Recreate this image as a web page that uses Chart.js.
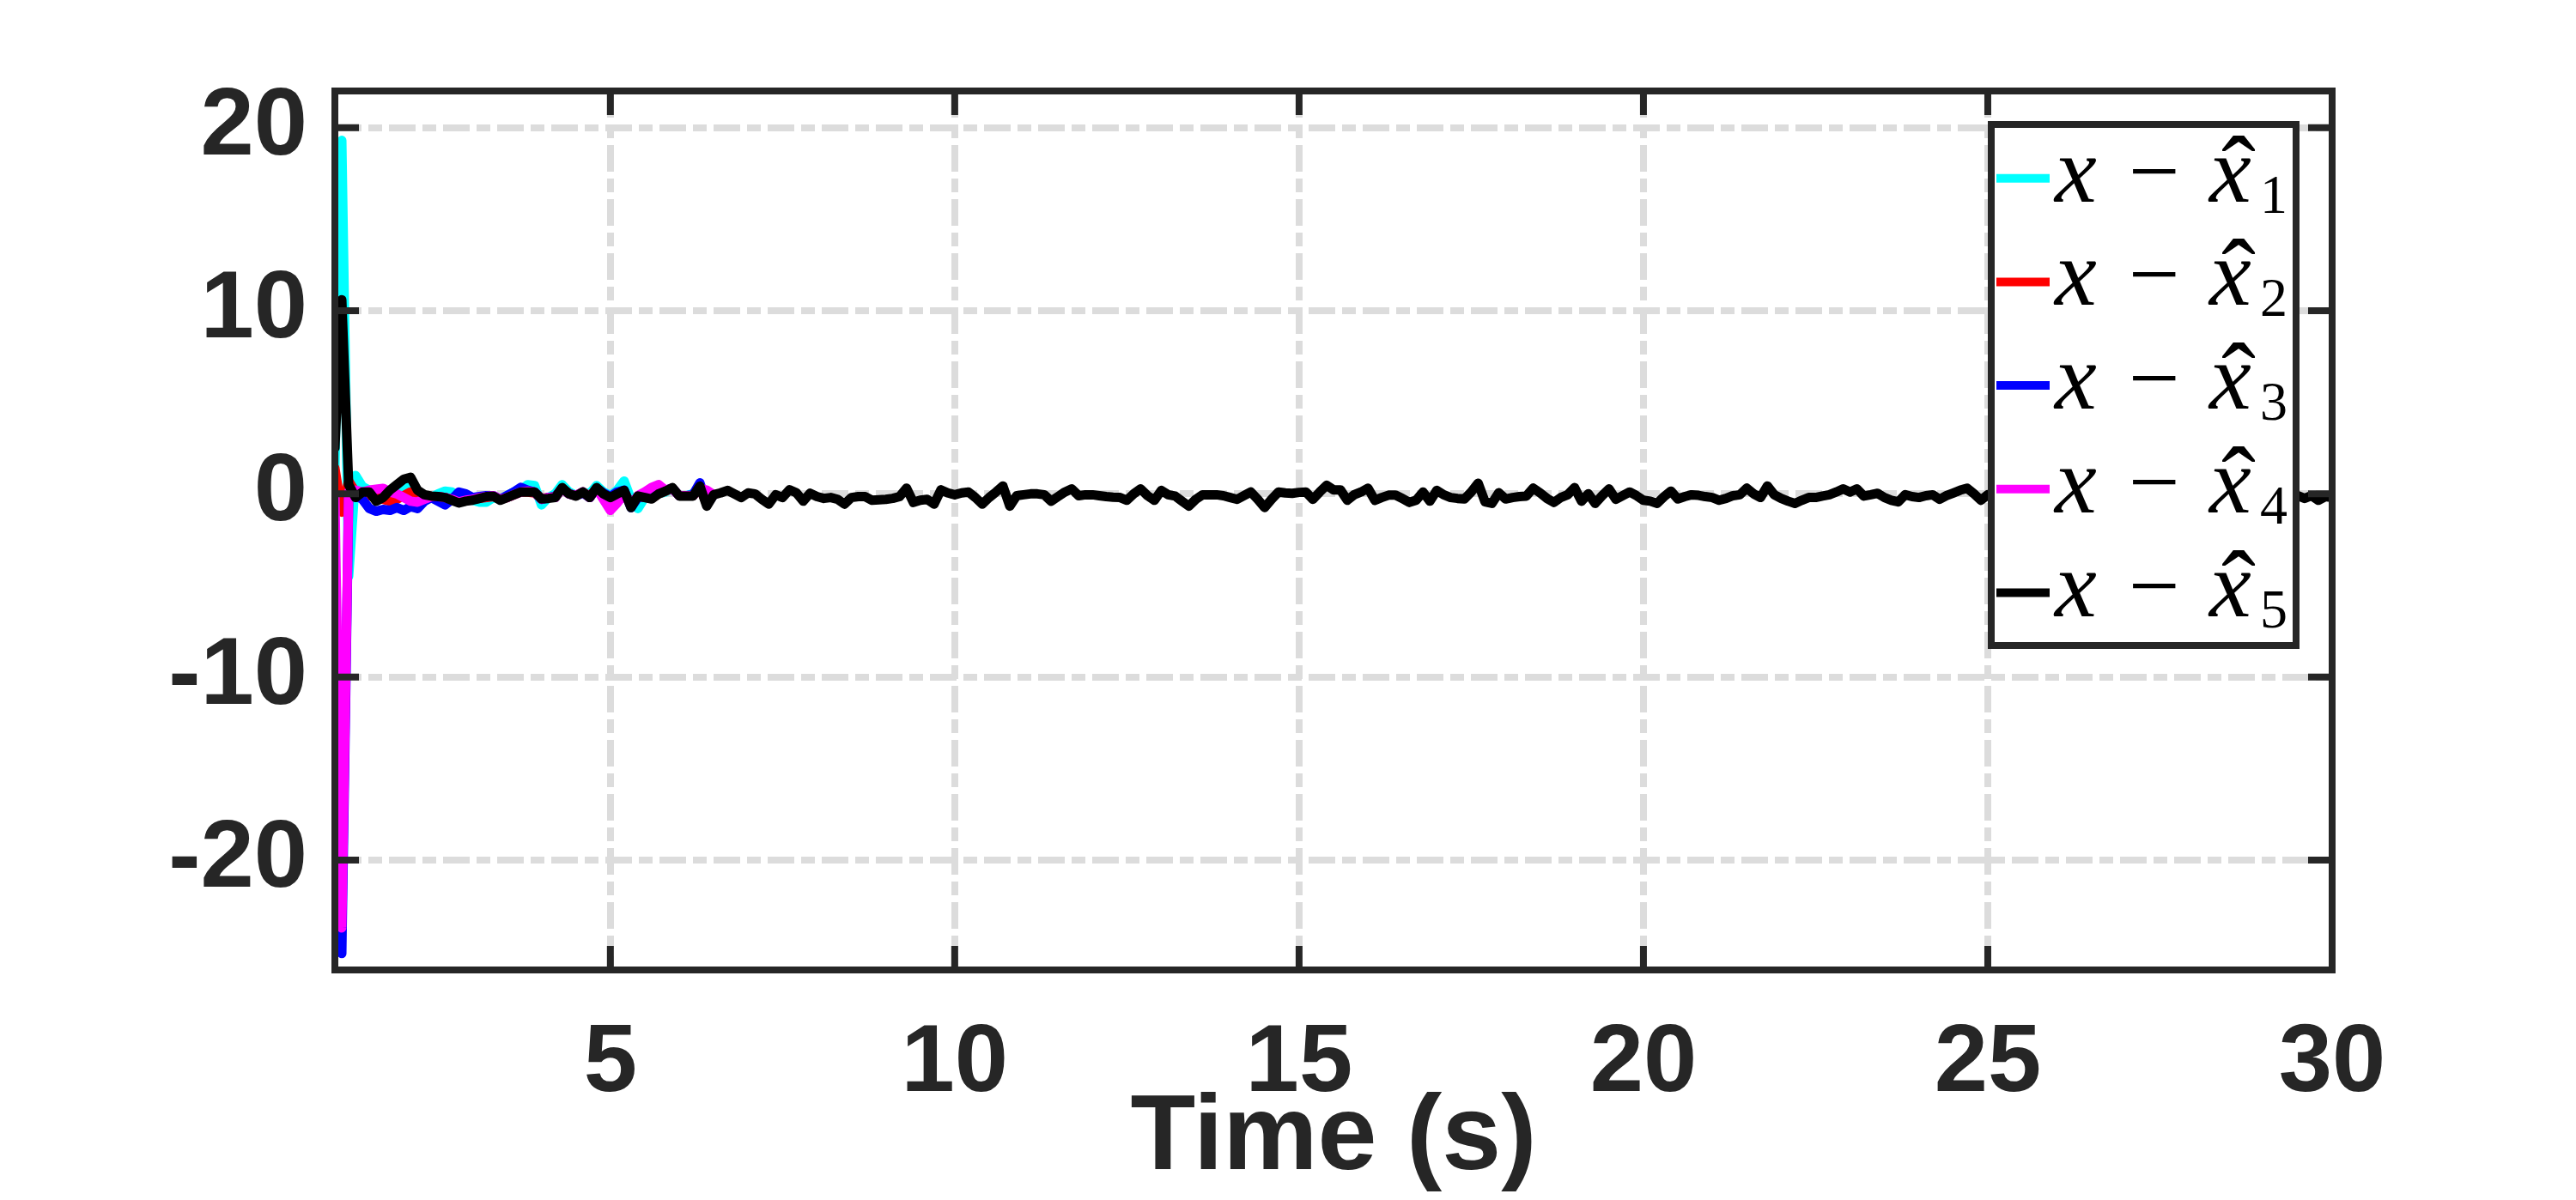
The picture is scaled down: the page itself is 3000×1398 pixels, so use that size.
<!DOCTYPE html>
<html>
<head>
<meta charset="utf-8">
<script src="https://cdn.jsdelivr.net/npm/chart.js@4.4.0/dist/chart.umd.min.js"></script>
<style>
  html, body { margin: 0; padding: 0; background: #fff; }
  #wrap { width: 3000px; height: 1398px; }
</style>
</head>
<body>
<div id="wrap"><canvas id="errChart" width="3000" height="1398"></canvas></div>
<script>
// sampling of the error signals (s)
var tStart = 1.0;
var dt = 0.1;

var xTicks = [5, 10, 15, 20, 25, 30];
var yTicks = [-20, -10, 0, 10, 20];

var seriesSubs = ['1', '2', '3', '4', '5'];
var seriesColors = ['#00ffff', '#ff0000', '#0000ff', '#ff00ff', '#000000'];

// x - xhat_1 .. x - xhat_4, from t = 1.0 s to 6.5 s
var err1 = [
  1.5, 19.3, -4.5, 1.0, 0.4, 0.2, -0.3, -0.1, 0.1, 0.2,
  0.3, 0.4, 0.1, -0.1, -0.2, 0.0, 0.15, 0.1, -0.3, -0.3,
  -0.35, -0.45, -0.45, -0.2, -0.3, -0.1, 0.1, 0.2, 0.5, 0.45,
  -0.6, -0.2, 0.0, 0.5, 0.1, -0.1, 0.1, 0.0, 0.45, 0.1,
  -0.1, 0.2, 0.7, -0.3, -0.8, -0.2, -0.2, 0.0, 0.1, 0.3,
  -0.1, -0.1, 0.0, 0.3, -0.4, -0.05
];
var err2 = [
  1.4, -1.0, 0.7, 0.1, 0.0, -0.1, -0.2, -0.3, -0.4, -0.3,
  -0.1, 0.1, 0.0, -0.1, -0.15, -0.15, -0.2, -0.3, -0.4, -0.35,
  -0.3, -0.25, -0.2, -0.15, -0.3, -0.2, -0.05, 0.1, 0.1, 0.05,
  -0.25, -0.2, -0.15, 0.3, 0.0, -0.1, 0.1, -0.15, 0.3, 0.0,
  -0.2, 0.0, 0.15, -0.6, -0.15, -0.2, -0.25, 0.0, 0.15, 0.3,
  -0.1, -0.1, -0.1, 0.35, -0.55, -0.05
];
var err3 = [
  -2.7, -25.1, -0.2, -0.1, -0.3, -0.8, -0.95, -0.85, -0.9, -0.75,
  -0.9, -0.7, -0.8, -0.4, -0.2, -0.4, -0.6, -0.3, 0.1, 0.0,
  -0.2, -0.15, -0.1, -0.1, -0.3, -0.1, 0.1, 0.35, 0.2, 0.1,
  -0.3, -0.2, -0.15, 0.3, 0.0, -0.1, 0.05, -0.2, 0.3, 0.05,
  -0.15, 0.1, 0.2, -0.75, -0.2, -0.15, -0.2, 0.05, 0.2, 0.3,
  -0.1, -0.1, -0.05, 0.6, -0.6, -0.05
];
var err4 = [
  -0.2, -23.7, 0.1, 0.2, 0.1, 0.2, 0.25, 0.3, 0.1, 0.0,
  -0.2, -0.4, -0.45, -0.3, -0.15, -0.15, -0.2, -0.3, -0.45, -0.35,
  -0.3, -0.2, -0.15, -0.1, -0.3, -0.2, -0.05, 0.1, 0.15, 0.1,
  -0.3, -0.2, -0.2, 0.3, 0.0, -0.1, 0.1, -0.2, 0.3, -0.3,
  -0.9, -0.5, 0.0, -0.6, -0.1, 0.1, 0.35, 0.5, 0.2, 0.3,
  -0.1, -0.1, -0.1, 0.3, 0.2, -0.05
];
// x - xhat_5, from t = 1.0 s to 30.0 s
var err5 = [
  2.5, 10.6, 0.5, -0.2, 0.1, 0.1, -0.4, -0.2, 0.2, 0.5,
  0.8, 0.9, 0.2, -0.05, -0.12, -0.15, -0.2, -0.35, -0.5, -0.4,
  -0.35, -0.25, -0.15, -0.12, -0.35, -0.2, -0.05, 0.1, 0.1, 0.1,
  -0.28, -0.25, -0.2, 0.34, 0.0, -0.12, 0.1, -0.2, 0.34, 0.0,
  -0.2, 0.0, 0.19, -0.75, -0.12, -0.2, -0.28, 0.0, 0.15, 0.34,
  -0.12, -0.12, -0.12, 0.42, -0.67, -0.05, 0.05, 0.19, 0.0, -0.2,
  0.05, 0.0, -0.3, -0.56, -0.05, -0.2, 0.22, 0.06, -0.4, 0.03,
  -0.15, -0.25, -0.2, -0.3, -0.56, -0.2, -0.15, -0.15, -0.35, -0.32,
  -0.3, -0.25, -0.15, 0.31, -0.47, -0.35, -0.3, -0.56, 0.22, 0.05,
  -0.05, 0.05, 0.1, -0.2, -0.56, -0.2, 0.1, 0.43, -0.67, -0.1,
  -0.05, 0.0, 0.0, -0.05, -0.4, -0.15, 0.1, 0.27, -0.1, -0.05,
  -0.05, -0.1, -0.15, -0.18, -0.2, -0.35, 0.0, 0.27, -0.1, -0.35,
  0.19, -0.05, -0.12, -0.4, -0.67, -0.3, -0.05, -0.05, -0.05, -0.1,
  -0.2, -0.3, -0.1, 0.1, -0.3, -0.75, -0.3, 0.1, 0.05, 0.03,
  0.08, 0.1, -0.3, 0.1, 0.47, 0.22, 0.22, -0.35, -0.05, 0.1,
  0.31, -0.35, -0.2, -0.07, -0.07, -0.25, -0.47, -0.35, 0.1, -0.4,
  0.19, -0.05, -0.2, -0.25, -0.28, 0.1, 0.58, -0.44, -0.52, 0.06,
  -0.28, -0.2, -0.15, -0.12, 0.31, 0.05, -0.25, -0.47, -0.2, -0.05,
  0.34, -0.4, 0.0, -0.52, -0.1, 0.27, -0.3, -0.1, 0.1, -0.1,
  -0.35, -0.4, -0.52, -0.15, 0.15, -0.28, -0.15, -0.05, -0.08, -0.15,
  -0.2, -0.35, -0.25, -0.1, -0.05, 0.31, 0.0, -0.2, 0.43, -0.05,
  -0.25, -0.4, -0.52, -0.35, -0.2, -0.2, -0.12, -0.05, 0.1, 0.27,
  0.1, 0.27, -0.12, -0.05, 0.03, -0.2, -0.35, -0.44, -0.05, -0.15,
  -0.2, -0.1, -0.05, -0.3, -0.1, 0.05, 0.2, 0.31, 0.0, -0.35,
  -0.05, -0.2, 0.15, -0.3, -0.1, 0.2, -0.25, -0.4, 0.05, -0.15,
  0.1, -0.3, -0.2, 0.25, -0.1, -0.45, 0.0, -0.15, 0.3, -0.2,
  -0.35, 0.05, -0.1, -0.25, 0.2, -0.2, -0.5, -0.1, 0.15, -0.05,
  -0.3, 0.1, -0.2, -0.15, 0.3, -0.35, -0.1, 0.05, -0.25, 0.2,
  -0.1, -0.4, -0.05, 0.1, -0.2, -0.1, -0.25, -0.1, -0.35, -0.15,
  -0.2
];

var allErrors = [err1, err2, err3, err4, err5];

function toPoints(values) {
  return values.map(function (v, i) {
    return { x: +(tStart + i * dt).toFixed(1), y: v };
  });
}

var datasets = allErrors.map(function (values, i) {
  return {
    label: 'x \u2212 x\u0302' + seriesSubs[i],
    data: toPoints(values),
    borderColor: seriesColors[i],
    backgroundColor: seriesColors[i],
    borderWidth: 11,
    borderJoinStyle: 'round',
    borderCapStyle: 'round',
    pointRadius: 0,
    tension: 0,
    fill: false,
    order: allErrors.length - 1 - i   // black last drawn = on top
  };
});

var axisColor = '#262626';
var gridColor = '#dcdcdc';
var gridDash = [31, 8, 16, 8];

// box, inward ticks and the legend (drawn over the lines like matlab)
var boxPlugin = {
  id: 'boxAndLegend',
  afterDatasetsDraw: function (chart) {
    var ctx = chart.ctx;
    var a = chart.chartArea;
    var xs = chart.scales.x;
    var ys = chart.scales.y;
    var tickLen = 28;

    ctx.save();
    ctx.strokeStyle = axisColor;
    ctx.lineWidth = 8;
    ctx.lineCap = 'butt';
    ctx.beginPath();
    xTicks.forEach(function (v) {
      var px = xs.getPixelForValue(v);
      ctx.moveTo(px, a.bottom); ctx.lineTo(px, a.bottom - tickLen);
      ctx.moveTo(px, a.top); ctx.lineTo(px, a.top + tickLen);
    });
    yTicks.forEach(function (v) {
      var py = ys.getPixelForValue(v);
      ctx.moveTo(a.left, py); ctx.lineTo(a.left + tickLen, py);
      ctx.moveTo(a.right, py); ctx.lineTo(a.right - tickLen, py);
    });
    ctx.stroke();
    ctx.strokeRect(a.left, a.top, a.right - a.left, a.bottom - a.top);

    // legend
    var lx = a.right - 397;
    var ly = a.top + 39;
    var lw = 355;
    var lh = 607;
    var rowGap = 120.7;
    ctx.fillStyle = '#ffffff';
    ctx.fillRect(lx, ly, lw, lh);

    chart.data.datasets.forEach(function (ds, i) {
      var cy = ly + 62.7 + i * rowGap;
      ctx.strokeStyle = ds.borderColor;
      ctx.lineWidth = 10;
      ctx.beginPath();
      ctx.moveTo(lx + 6, cy);
      ctx.lineTo(lx + 68, cy);
      ctx.stroke();

      ctx.fillStyle = '#000000';
      ctx.textBaseline = 'alphabetic';
      ctx.textAlign = 'left';
      ctx.font = 'italic 110px "Liberation Serif"';
      ctx.fillText('x', lx + 74, cy + 27);
      ctx.fillText('x', lx + 254, cy + 27);
      ctx.font = '106px "Liberation Serif"';
      ctx.fillText('\u2212', lx + 160, cy + 27);
      ctx.textAlign = 'center';
      ctx.font = '120px "Liberation Serif"';
      ctx.fillText('\u02c6', lx + 288, cy + 34);
      ctx.textAlign = 'left';
      ctx.font = '64px "Liberation Serif"';
      ctx.fillText(seriesSubs[i], lx + 313, cy + 40);
    });

    ctx.strokeStyle = axisColor;
    ctx.lineWidth = 8;
    ctx.strokeRect(lx, ly, lw, lh);
    ctx.restore();
  }
};

var ctx = document.getElementById('errChart').getContext('2d');

var errChart = new Chart(ctx, {
  type: 'line',
  data: { datasets: datasets },
  options: {
    responsive: false,
    animation: false,
    layout: { padding: { left: 0, right: 284, top: 106, bottom: 0 } },
    plugins: {
      legend: { display: false },
      tooltip: { enabled: false }
    },
    scales: {
      x: {
        type: 'linear',
        min: 1,
        max: 30,
        afterBuildTicks: function (scale) {
          scale.ticks = xTicks.map(function (v) { return { value: v }; });
        },
        afterFit: function (scale) { scale.height = 268; },
        grid: { color: gridColor, lineWidth: 8, drawTicks: false },
        border: { display: false, dash: gridDash },
        ticks: {
          padding: 43,
          maxRotation: 0,
          color: axisColor,
          font: { family: 'Liberation Sans', size: 112, weight: 'bold' },
          callback: function (v) { return String(v); }
        },
        title: {
          display: true,
          text: 'Time (s)',
          color: axisColor,
          font: { family: 'Liberation Sans', size: 124, weight: 'bold', lineHeight: 1 },
          padding: { top: 0, bottom: 8 }
        }
      },
      y: {
        min: -26,
        max: 22,
        afterBuildTicks: function (scale) {
          scale.ticks = yTicks.map(function (v) { return { value: v }; });
        },
        afterFit: function (scale) { scale.width = 390; },
        grid: { color: gridColor, lineWidth: 8, drawTicks: false },
        border: { display: false, dash: gridDash },
        ticks: {
          padding: 32,
          color: axisColor,
          font: { family: 'Liberation Sans', size: 112, weight: 'bold' },
          callback: function (v) { return String(v); }
        }
      }
    }
  },
  plugins: [boxPlugin]
});
</script>
</body>
</html>
